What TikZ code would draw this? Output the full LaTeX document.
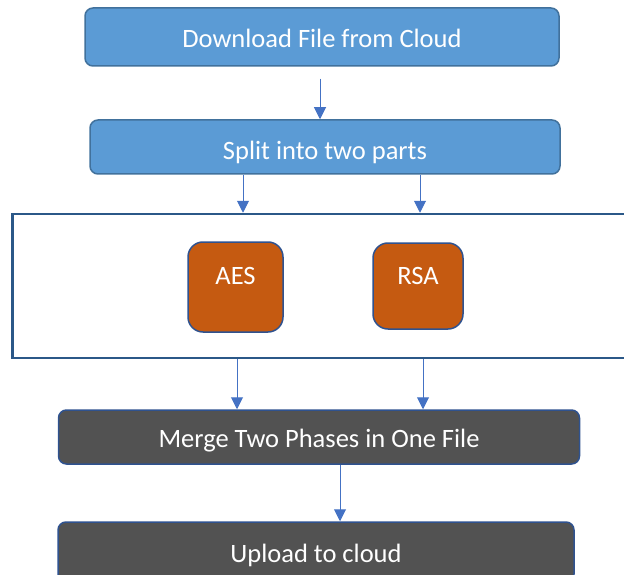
\documentclass[tikz,border=0pt]{standalone}
\usepackage{fontspec}
\setmainfont{Carlito}
\usetikzlibrary{arrows.meta}
\definecolor{stepblue}{HTML}{5B9BD5}
\definecolor{stepedge}{HTML}{41719C}
\definecolor{algofill}{HTML}{C55A11}
\definecolor{algoedge}{HTML}{2F528F}
\definecolor{mergefill}{HTML}{525252}
\definecolor{boxedge}{HTML}{2B5888}
\definecolor{arrowblue}{HTML}{4472C4}
\tikzstyle{stepbox}=[draw=stepedge,fill=stepblue,line width=1.5pt,rounded corners=8pt,
  text=white,inner sep=0pt,font=\fontsize{26.5}{30}\selectfont,
  text height=22pt,text depth=1pt]
\tikzstyle{darkbox}=[stepbox,draw=algoedge,fill=mergefill]
\tikzstyle{algobox}=[stepbox,draw=algoedge,fill=algofill,rounded corners=15pt,
  text height=13pt,text depth=18pt]
\tikzstyle{flow}=[draw=arrowblue,line width=1pt,-{Triangle[width=12pt,length=12pt]}]

\begin{document}
\begin{tikzpicture}[x=1pt,y=-1pt]
    \useasboundingbox (0,0) rectangle (624,575);
    \clip (0,0) rectangle (624,575);
    \node[stepbox,minimum width=474pt,minimum height=58pt] (download) at (322,37) {Download File from Cloud};
    \node[stepbox,minimum width=470pt,minimum height=54pt,text height=27pt] (split) at (325,147) {Split into two parts};
    \node[draw=boxedge,line width=2.5pt,minimum width=627pt,minimum height=144pt] (phases) at (326,286) {};
    \node[algobox,minimum width=95pt,minimum height=90pt] (aes) at (235.5,287) {AES};
    \node[algobox,minimum width=90pt,minimum height=86pt,text height=15pt] (rsa) at (418,286) {RSA};
    \node[darkbox,minimum width=521pt,minimum height=54pt] (merge) at (319,437) {Merge Two Phases in One File};
    \node[darkbox,minimum width=516pt,minimum height=60pt] (upload) at (316,552) {Upload to cloud};

    \draw[flow] ([xshift=-2pt,yshift=-12pt]download.south) -- ([xshift=-5pt]split.north);
    \draw[flow] (split.south -| {243,0}) -- (phases.north -| {243,0});
    \draw[flow] (split.south -| {420,0}) -- (phases.north -| {420,0});
    \draw[flow] (phases.south -| {237,0}) -- (merge.north -| {237,0});
    \draw[flow] (phases.south -| {423,0}) -- (merge.north -| {423,0});
    \draw[flow] ([xshift=21pt]merge.south) -- ([xshift=24pt]upload.north);
\end{tikzpicture}
\end{document}
